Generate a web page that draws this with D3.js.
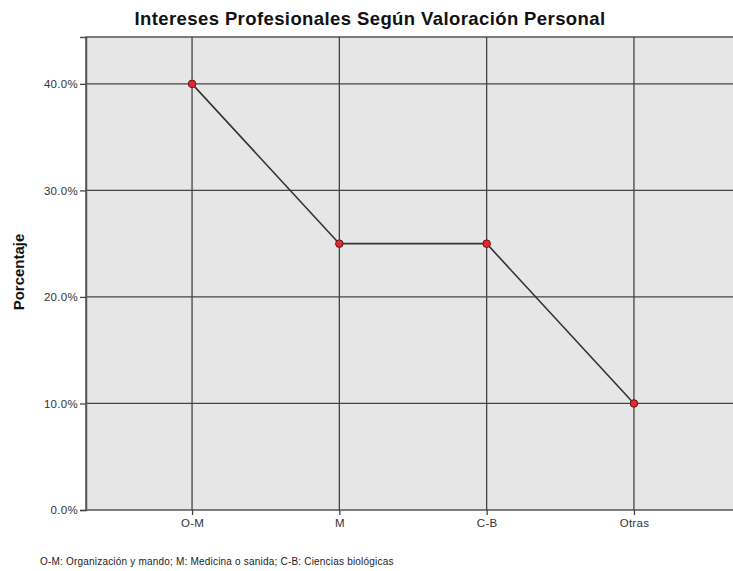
<!DOCTYPE html>
<html>
<head>
<meta charset="utf-8">
<script src="https://cdn.jsdelivr.net/npm/d3@7"></script>
<style>
body { margin: 0; background: #fff; }
text { font-family: "Liberation Sans", Arial, sans-serif; }
</style>
</head>
<body>
<div id="chart"></div>
<script>
// data
var categories = ["O-M", "M", "C-B", "Otras"];
var values = [40, 25, 25, 10];
var yTicks = [0, 10, 20, 30, 40];

var W = 733, H = 571;
var plotLeft = 86, plotTop = 37, plotRight = 740, plotBottom = 510;

var svg = d3.select("#chart").append("svg")
  .attr("width", W).attr("height", H);

var x = d3.scalePoint()
  .domain(categories)
  .range([plotLeft, plotRight])
  .padding(0.72);

var y = d3.scaleLinear()
  .domain([0, 44.4])
  .range([plotBottom, plotTop]);

// plot background
svg.append("rect")
  .attr("x", plotLeft).attr("y", plotTop)
  .attr("width", plotRight - plotLeft).attr("height", plotBottom - plotTop)
  .attr("fill", "#e6e6e6")
  .attr("stroke", "#555").attr("stroke-width", 1.5);

// grid lines
svg.append("g").selectAll("line")
  .data(yTicks.slice(1))
  .enter().append("line")
  .attr("x1", plotLeft).attr("x2", plotRight)
  .attr("y1", function (d) { return y(d); })
  .attr("y2", function (d) { return y(d); })
  .attr("stroke", "#444").attr("stroke-width", 1.3);

svg.append("g").selectAll("line")
  .data(categories)
  .enter().append("line")
  .attr("x1", function (d) { return x(d); })
  .attr("x2", function (d) { return x(d); })
  .attr("y1", plotTop).attr("y2", plotBottom)
  .attr("stroke", "#444").attr("stroke-width", 1.3);

// Y axis
var yAxis = svg.append("g")
  .attr("transform", "translate(" + plotLeft + ",0)")
  .call(d3.axisLeft(y).tickValues(yTicks).tickSize(6).tickPadding(2)
    .tickFormat(function (d) { return d.toFixed(1) + "%"; }));
yAxis.select(".domain").attr("stroke", "#555").attr("stroke-width", 1.5);
yAxis.selectAll(".tick line").attr("stroke", "#444").attr("stroke-width", 1.3);
yAxis.selectAll("text").attr("fill", "#333")
  .style("font-size", "11.5px").style("letter-spacing", "0.3px");

// X axis
var xAxis = svg.append("g")
  .attr("transform", "translate(0," + plotBottom + ")")
  .call(d3.axisBottom(x).tickSize(5).tickPadding(4));
xAxis.select(".domain").remove();
xAxis.selectAll(".tick line").attr("stroke", "#444").attr("stroke-width", 1.3);
xAxis.selectAll("text").attr("fill", "#333")
  .style("font-size", "11.5px").style("letter-spacing", "0.3px");

// line
svg.append("path")
  .datum(values)
  .attr("fill", "none")
  .attr("stroke", "#333")
  .attr("stroke-width", 1.6)
  .attr("d", d3.line()
    .x(function (d, i) { return x(categories[i]); })
    .y(function (d) { return y(d); }));

// points
svg.append("g").selectAll("circle")
  .data(values)
  .enter().append("circle")
  .attr("cx", function (d, i) { return x(categories[i]); })
  .attr("cy", function (d) { return y(d); })
  .attr("r", 3.8)
  .attr("fill", "#e8262c")
  .attr("stroke", "#5a1a1a")
  .attr("stroke-width", 1);

// title
svg.append("text")
  .attr("x", 370).attr("y", 25)
  .attr("text-anchor", "middle")
  .style("font-size", "18.5px").style("font-weight", "bold")
  .style("letter-spacing", "0.4px")
  .attr("fill", "#111")
  .text("Intereses Profesionales Según Valoración Personal");

// y label
svg.append("text")
  .attr("transform", "translate(24," + 272 + ") rotate(-90)")
  .attr("text-anchor", "middle")
  .style("font-size", "15px").style("font-weight", "bold")
  .attr("fill", "#111")
  .text("Porcentaje");

// footnote
svg.append("text")
  .attr("x", 40).attr("y", 565)
  .style("font-size", "10px").style("letter-spacing", "0.2px")
  .attr("fill", "#222")
  .text("O-M: Organización y mando; M: Medicina o sanida; C-B: Ciencias biológicas");
</script>
</body>
</html>
